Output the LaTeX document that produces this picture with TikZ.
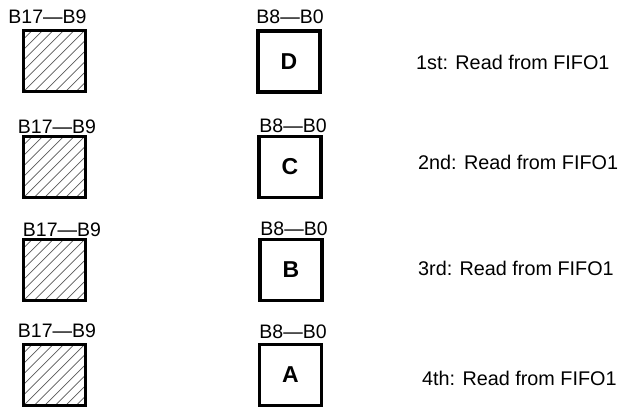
\documentclass[tikz,border=0pt]{standalone}
\usepackage{fontspec}
\setmainfont{Liberation Sans}
\begin{document}
\begin{tikzpicture}[x=1pt,y=-1pt,
  box/.style={draw=black,line width=3.8pt,minimum width=62pt,minimum height=61pt,inner sep=0pt},
  hatchbox/.style={box,path picture={
     \foreach \i in {-8,...,8}{
       \draw[black!65,line width=0.7pt] ([xshift=\i*10.5pt]path picture bounding box.south west) -- ++(80pt,80pt);}
  }},
  lbl/.style={inner sep=0pt,font=\fontsize{19.5}{22}\selectfont},
  letter/.style={font=\fontsize{23}{25}\selectfont\bfseries},
  note/.style={inner sep=0pt,anchor=west,font=\fontsize{19.8}{22}\selectfont}]
\useasboundingbox (0,0) rectangle (623,408);
% row 1
\node[hatchbox] (h1) at (54.5,61) {};
\node[box,letter] (d) at (289,61.5) {D};
\node[lbl] (lh1) at (47.5,17) {B17—B9};
\node[lbl] (ld1) at (290,17) {B8—B0};
\node[note] (t1) at (416,62) {1st: Read from FIFO1};
% row 2
\node[hatchbox] (h2) at (54.5,167) {};
\node[box,letter] (c) at (290,167) {C};
\node[lbl] (lh2) at (57,127) {B17—B9};
\node[lbl] (ld2) at (293,126) {B8—B0};
\node[note] (t2) at (418,162) {2nd: Read from FIFO1};
% row 3
\node[hatchbox] (h3) at (54.5,270) {};
\node[box,letter] (b) at (291,270) {B};
\node[lbl] (lh3) at (62,230) {B17—B9};
\node[lbl] (ld3) at (294,229) {B8—B0};
\node[note] (t3) at (418,268) {3rd: Read from FIFO1};
% row 4
\node[hatchbox] (h4) at (54.5,375) {};
\node[box,letter] (a) at (290.5,375) {A};
\node[lbl] (lh4) at (57,331) {B17—B9};
\node[lbl] (ld4) at (293,332) {B8—B0};
\node[note] (t4) at (422,378) {4th: Read from FIFO1};
\end{tikzpicture}
\end{document}
